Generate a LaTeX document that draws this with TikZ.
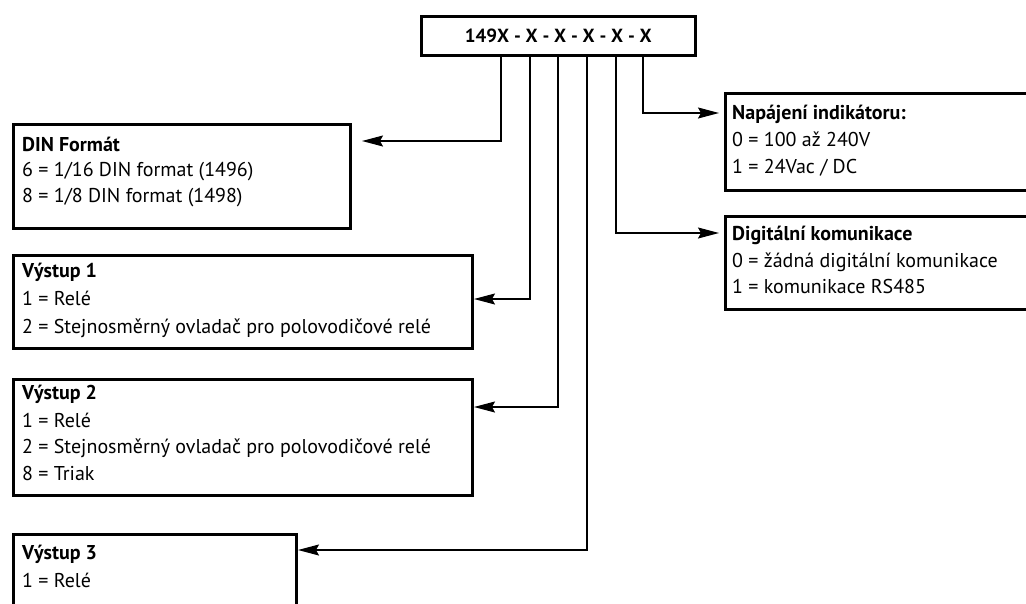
\documentclass[tikz,border=0pt]{standalone}
\usepackage{fontspec}
\setmainfont{PT Sans}
\usetikzlibrary{arrows.meta}
\begin{document}
\begin{tikzpicture}[x=1pt,y=-1pt,
  box/.style={draw, line width=2.6pt, inner sep=0pt, anchor=north west},
  conn/.style={line width=1.4pt, -{Stealth[length=21pt,width=11pt,inset=3pt]}},
  txt/.style={anchor=base west, inner sep=0pt, font=\fontsize{20}{23}\selectfont},
  ttl/.style={anchor=base west, inner sep=0pt, font=\fontsize{20}{23}\selectfont\bfseries}]
\useasboundingbox (0,0) rectangle (1026,603);

% boxes
\node[box, minimum width=274pt, minimum height=39pt, font=\fontsize{19}{22}\selectfont\bfseries] (top) at (420,15) {149X - X - X - X - X - X};
\node[box, minimum width=337pt, minimum height=104pt] (din) at (12,123) {};
\node[box, minimum width=459pt, minimum height=93pt] (v1) at (12,254) {};
\node[box, minimum width=459pt, minimum height=116pt] (v2) at (12,378) {};
\node[box, minimum width=283pt, minimum height=100pt] (v3) at (12,533) {};
\node[box, minimum width=320pt, minimum height=97pt] (nap) at (724,92) {};
\node[box, minimum width=320pt, minimum height=93pt] (dig) at (724,215) {};

% texts
\node[ttl] (dint) at (22,151) {DIN Formát};
\node[txt] (din1) at (22,176) {6 = 1/16 DIN format (1496)};
\node[txt] (din2) at (22,202) {8 = 1/8 DIN format (1498)};

\node[ttl] (v1t) at (22,277) {Výstup 1};
\node[txt] (v11) at (22,305) {1 = Relé};
\node[txt] (v12) at (22,333) {2 = Stejnosměrný ovladač pro polovodičové relé};

\node[ttl] (v2t) at (22,399) {Výstup 2};
\node[txt] (v21) at (22,427) {1 = Relé};
\node[txt] (v22) at (22,453) {2 = Stejnosměrný ovladač pro polovodičové relé};
\node[txt] (v23) at (22,480) {8 = Triak};

\node[ttl] (v3t) at (22,559) {Výstup 3};
\node[txt] (v31) at (22,587) {1 = Relé};

\node[ttl] (napt) at (732,119) {Napájení indikátoru:};
\node[txt] (nap1) at (732,146) {0 = 100 až 240V};
\node[txt] (nap2) at (732,173) {1 = 24Vac / DC};

\node[ttl] (digt) at (732,240) {Digitální komunikace};
\node[txt] (dig1) at (732,267) {0 = žádná digitální komunikace};
\node[txt] (dig2) at (732,293) {1 = komunikace RS485};

% connector start points on the bottom of the code box
\coordinate (o1) at (501,54);
\coordinate (o2) at (530,54);
\coordinate (o3) at (558,54);
\coordinate (o4) at (587,54);
\coordinate (o5) at (616,54);
\coordinate (o6) at (643,54);
% arrow tips
\coordinate (e1) at (362,141);
\coordinate (e2) at (474,299);
\coordinate (e3) at (474,407);
\coordinate (e4) at (298,550);
\coordinate (e5) at (719,233);
\coordinate (e6) at (719,113);

\draw[conn] (o1) |- (e1);
\draw[conn] (o2) |- (e2);
\draw[conn] (o3) |- (e3);
\draw[conn] (o4) |- (e4);
\draw[conn] (o5) |- (e5);
\draw[conn] (o6) |- (e6);
\end{tikzpicture}
\end{document}
